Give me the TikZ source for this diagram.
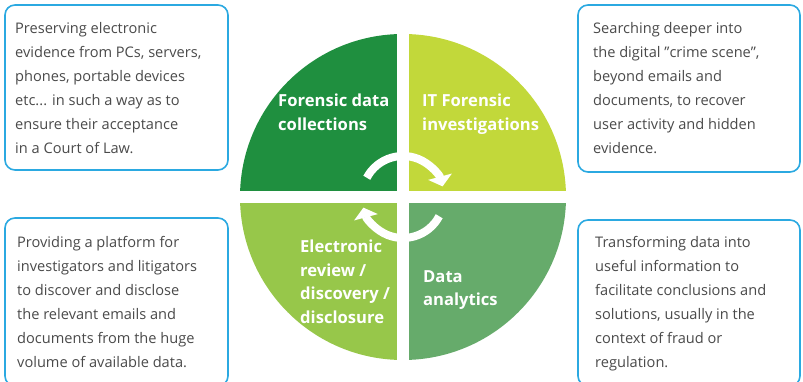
\documentclass[tikz,border=0pt]{standalone}
\usepackage{fontspec}
\setmainfont{Open Sans}
\usetikzlibrary{arrows.meta}
\definecolor{qdark}{HTML}{1F8F3F}
\definecolor{qlime}{HTML}{C2D83A}
\definecolor{qlight}{HTML}{97C74A}
\definecolor{qmed}{HTML}{66AB6B}
\definecolor{boxblue}{HTML}{2BA9E1}
\definecolor{txtgray}{HTML}{4A4A4A}
\tikzset{
  infobox/.style={draw=boxblue, line width=1.6pt, rounded corners=10pt, fill=white},
  infotext/.style={anchor=north west, inner sep=0pt, align=left, text=txtgray,
    font=\fontsize{14.6}{24}\selectfont},
  quadtext/.style={anchor=north west, inner sep=0pt, align=left, text=white,
    font=\fontsize{16.6}{23.5}\selectfont\bfseries},
  cyclearrow/.style={draw=white, line width=8pt, -{Triangle[length=10pt,width=24pt]}}
}
\begin{document}
\begin{tikzpicture}[x=1pt,y=1pt]
\useasboundingbox (0,0) rectangle (803,382);
\coordinate (c) at (403,185);
% quadrants
\fill[qdark] (c) -- ++(90:163) arc[start angle=90,end angle=180,radius=163] -- cycle;
\fill[qlime] (c) -- ++(0:163) arc[start angle=0,end angle=90,radius=163] -- cycle;
\fill[qlight] (c) -- ++(180:163) arc[start angle=180,end angle=270,radius=163] -- cycle;
\fill[qmed] (c) -- ++(270:163) arc[start angle=270,end angle=360,radius=163] -- cycle;
% gaps
\draw[white, line width=12.5pt] ([yshift=-170]c) -- ([yshift=170]c);
\draw[white, line width=12.5pt] ([xshift=-170]c) -- ([xshift=170]c);
% cycle arrows
\draw[cyclearrow] ([shift={(152:41)}]c) arc[start angle=152,end angle=15,radius=41];
\draw[cyclearrow] ([shift={(332:41)}]c) arc[start angle=332,end angle=195,radius=41];
% quadrant labels
\node[quadtext] (fdc) at (278,288) {Forensic data\\collections};
\node[quadtext] (itf) at (422,288) {IT Forensic\\investigations};
\node[quadtext] (erd) at (300,142) {Electronic\\review /\\discovery /\\disclosure};
\node[quadtext] (da) at (423,112) {Data\\analytics};
% boxes
\draw[infobox] (5,377) rectangle (228,212);
\draw[infobox] (578,377) rectangle (800,210);
\draw[infobox] (5,164) rectangle (228,-4);
\draw[infobox] (578,162) rectangle (800,-4);
\node[infotext] (tl) at (15,360) {Preserving electronic\\evidence from PCs, servers,\\phones, portable devices\\etc... in such a way as to\\ensure their acceptance\\in a Court of Law.};
\node[infotext] (tr) at (593,360) {Searching deeper into\\the digital \char34 crime scene\char34 ,\\beyond emails and\\documents, to recover\\user activity and hidden\\evidence.};
\node[infotext] (bl) at (17,146) {Providing a platform for\\investigators and litigators\\to discover and disclose\\the relevant emails and\\documents from the huge\\volume of available data.};
\node[infotext] (br) at (595,146) {Transforming data into\\useful information to\\facilitate conclusions and\\solutions, usually in the\\context of fraud or\\regulation.};
\end{tikzpicture}
\end{document}
